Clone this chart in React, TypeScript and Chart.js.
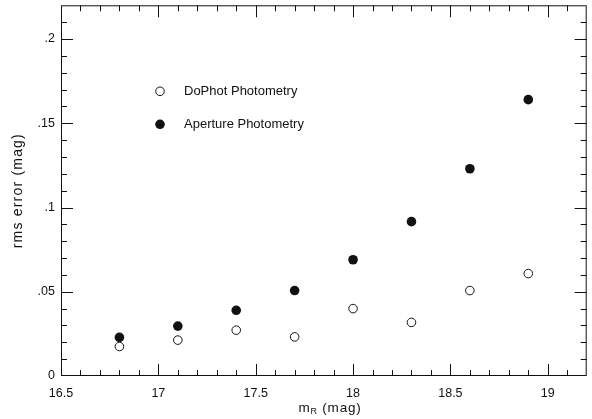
import React, { useEffect, useRef } from "react";
import { Chart, registerables } from "chart.js";

Chart.register(...registerables);

const magnitudes = [16.8, 17.1, 17.4, 17.7, 18.0, 18.3, 18.6, 18.9];
const dophotRms = [0.0175, 0.0213, 0.0272, 0.0232, 0.0400, 0.0318, 0.0507, 0.0608];
const apertureRms = [0.0229, 0.0296, 0.0390, 0.0507, 0.0690, 0.0916, 0.1230, 0.1640];

const xTickValues = [16.5, 17, 17.5, 18, 18.5, 19];
const xTickLabels = ["16.5", "17", "17.5", "18", "18.5", "19"];
const yTickValues = [0, 0.05, 0.1, 0.15, 0.2];
const yTickLabels = ["0", ".05", ".1", ".15", ".2"];

const seriesNames = ["DoPhot Photometry", "Aperture Photometry"];
const xTitleMain = "m";
const xTitleSub = "R";
const xTitleRest = " (mag)";
const yTitle = "rms error (mag)";

const X_MIN = 16.5;
const X_MAX = 19.2;
const X_MINOR = 0.1;
const Y_MIN = 0;
const Y_MAX = 0.22;
const Y_MINOR = 0.01;

const FONT = "'Liberation Sans', Arial, Helvetica, sans-serif";
const INK = "#111";

const framePlugin = {
  id: "framePlugin",
  afterDraw(chart: any) {
    const { ctx, chartArea, scales } = chart;
    const { left, right, top, bottom } = chartArea;
    const xs = scales.x;
    const ys = scales.y;
    ctx.save();
    ctx.strokeStyle = INK;
    ctx.lineWidth = 1;
    ctx.strokeRect(left + 0.5, top + 0.5, right - left - 1, bottom - top - 1);

    const MAJ = 12;
    const MIN = 6;
    ctx.beginPath();
    const nx = Math.round((X_MAX - X_MIN) / X_MINOR);
    for (let i = 1; i < nx; i++) {
      const v = X_MIN + i * X_MINOR;
      const isMajor = xTickValues.some((t) => Math.abs(t - v) < 1e-6);
      const len = isMajor ? MAJ : MIN;
      const px = Math.round(xs.getPixelForValue(v)) + 0.5;
      ctx.moveTo(px, bottom);
      ctx.lineTo(px, bottom - len);
      ctx.moveTo(px, top);
      ctx.lineTo(px, top + len);
    }
    const ny = Math.round((Y_MAX - Y_MIN) / Y_MINOR);
    for (let i = 1; i < ny; i++) {
      const v = Y_MIN + i * Y_MINOR;
      const isMajor = yTickValues.some((t) => Math.abs(t - v) < 1e-6);
      const len = isMajor ? MAJ : MIN;
      const py = Math.round(ys.getPixelForValue(v)) + 0.5;
      ctx.moveTo(left, py);
      ctx.lineTo(left + len, py);
      ctx.moveTo(right, py);
      ctx.lineTo(right - len, py);
    }
    ctx.stroke();

    // axis titles
    ctx.fillStyle = INK;
    ctx.textBaseline = "middle";
    ctx.save();
    ctx.font = `14px ${FONT}`;
    (ctx as any).letterSpacing = "1.2px";
    ctx.translate(18, (top + bottom) / 2);
    ctx.rotate(-Math.PI / 2);
    ctx.textAlign = "center";
    ctx.fillText(yTitle, 0, 0);
    ctx.restore();

    ctx.save();
    (ctx as any).letterSpacing = "0.8px";
    ctx.font = `13.5px ${FONT}`;
    const wMain = ctx.measureText(xTitleMain).width;
    const wRest = ctx.measureText(xTitleRest).width;
    ctx.font = `9px ${FONT}`;
    const wSub = ctx.measureText(xTitleSub).width;
    const total = wMain + wSub + wRest;
    let tx = 330 - total / 2;
    const ty = 408;
    ctx.textAlign = "left";
    ctx.font = `13.5px ${FONT}`;
    ctx.fillText(xTitleMain, tx, ty);
    tx += wMain;
    ctx.font = `9px ${FONT}`;
    ctx.fillText(xTitleSub, tx, ty + 4);
    tx += wSub;
    ctx.font = `13.5px ${FONT}`;
    ctx.fillText(xTitleRest, tx, ty);
    ctx.restore();

    // legend
    const lx = left + 99;
    const ly = [top + 86, top + 119];
    ctx.font = `13px ${FONT}`;
    ctx.textAlign = "left";
    ctx.lineWidth = 1;
    ctx.beginPath();
    ctx.arc(lx, ly[0], 4.3, 0, Math.PI * 2);
    ctx.fillStyle = "#fff";
    ctx.fill();
    ctx.strokeStyle = INK;
    ctx.stroke();
    ctx.fillStyle = INK;
    ctx.fillText(seriesNames[0], lx + 24, ly[0]);
    ctx.beginPath();
    ctx.arc(lx, ly[1], 4.8, 0, Math.PI * 2);
    ctx.fillStyle = INK;
    ctx.fill();
    ctx.fillText(seriesNames[1], lx + 24, ly[1]);

    ctx.restore();
  },
};

export default function App() {
  const canvasRef = useRef<HTMLCanvasElement | null>(null);

  useEffect(() => {
    const canvas = canvasRef.current;
    if (!canvas) return;
    const chart = new Chart(canvas, {
      type: "scatter",
      data: {
        datasets: [
          {
            label: seriesNames[0],
            data: magnitudes.map((x, i) => ({ x, y: dophotRms[i] })),
            pointStyle: "circle",
            pointRadius: 4.3,
            pointBorderWidth: 1,
            pointBorderColor: INK,
            pointBackgroundColor: "#fff",
          },
          {
            label: seriesNames[1],
            data: magnitudes.map((x, i) => ({ x, y: apertureRms[i] })),
            pointStyle: "circle",
            pointRadius: 4.8,
            pointBorderWidth: 0,
            pointBorderColor: INK,
            pointBackgroundColor: INK,
          },
        ],
      },
      options: {
        animation: false,
        responsive: false,
        devicePixelRatio: 1,
        layout: { padding: { top: 5, right: 5, left: 0, bottom: 0 } },
        plugins: {
          legend: { display: false },
          tooltip: { enabled: false },
          title: { display: false },
        },
        scales: {
          x: {
            type: "linear",
            min: X_MIN,
            max: X_MAX,
            grid: { display: false, drawTicks: false },
            border: { display: false },
            afterBuildTicks: (scale: any) => {
              scale.ticks = xTickValues.map((value) => ({ value }));
            },
            afterFit: (scale: any) => {
              scale.height = 43;
              scale.paddingLeft = 0;
              scale.paddingRight = 0;
            },
            ticks: {
              padding: 10,
              maxRotation: 0,
              autoSkip: false,
              color: INK,
              font: { family: FONT, size: 12.5 },
              callback: (v: any) => {
                const i = xTickValues.findIndex((t) => Math.abs(t - Number(v)) < 1e-6);
                return i >= 0 ? xTickLabels[i] : "";
              },
            },
          },
          y: {
            type: "linear",
            min: Y_MIN,
            max: Y_MAX,
            grid: { display: false, drawTicks: false },
            border: { display: false },
            afterBuildTicks: (scale: any) => {
              scale.ticks = yTickValues.map((value) => ({ value }));
            },
            afterFit: (scale: any) => {
              scale.width = 61;
              scale.paddingTop = 0;
              scale.paddingBottom = 0;
            },
            ticks: {
              padding: 6,
              autoSkip: false,
              color: INK,
              font: { family: FONT, size: 12.5 },
              callback: (v: any) => {
                const i = yTickValues.findIndex((t) => Math.abs(t - Number(v)) < 1e-6);
                return i >= 0 ? yTickLabels[i] : "";
              },
            },
          },
        },
      },
      plugins: [framePlugin],
    } as any);
    return () => chart.destroy();
  }, []);

  return (
    <div style={{ position: "absolute", left: 0, top: 0, width: 592, height: 419, background: "#fff" }}>
      <canvas ref={canvasRef} width={592} height={419} style={{ display: "block" }} />
    </div>
  );
}
